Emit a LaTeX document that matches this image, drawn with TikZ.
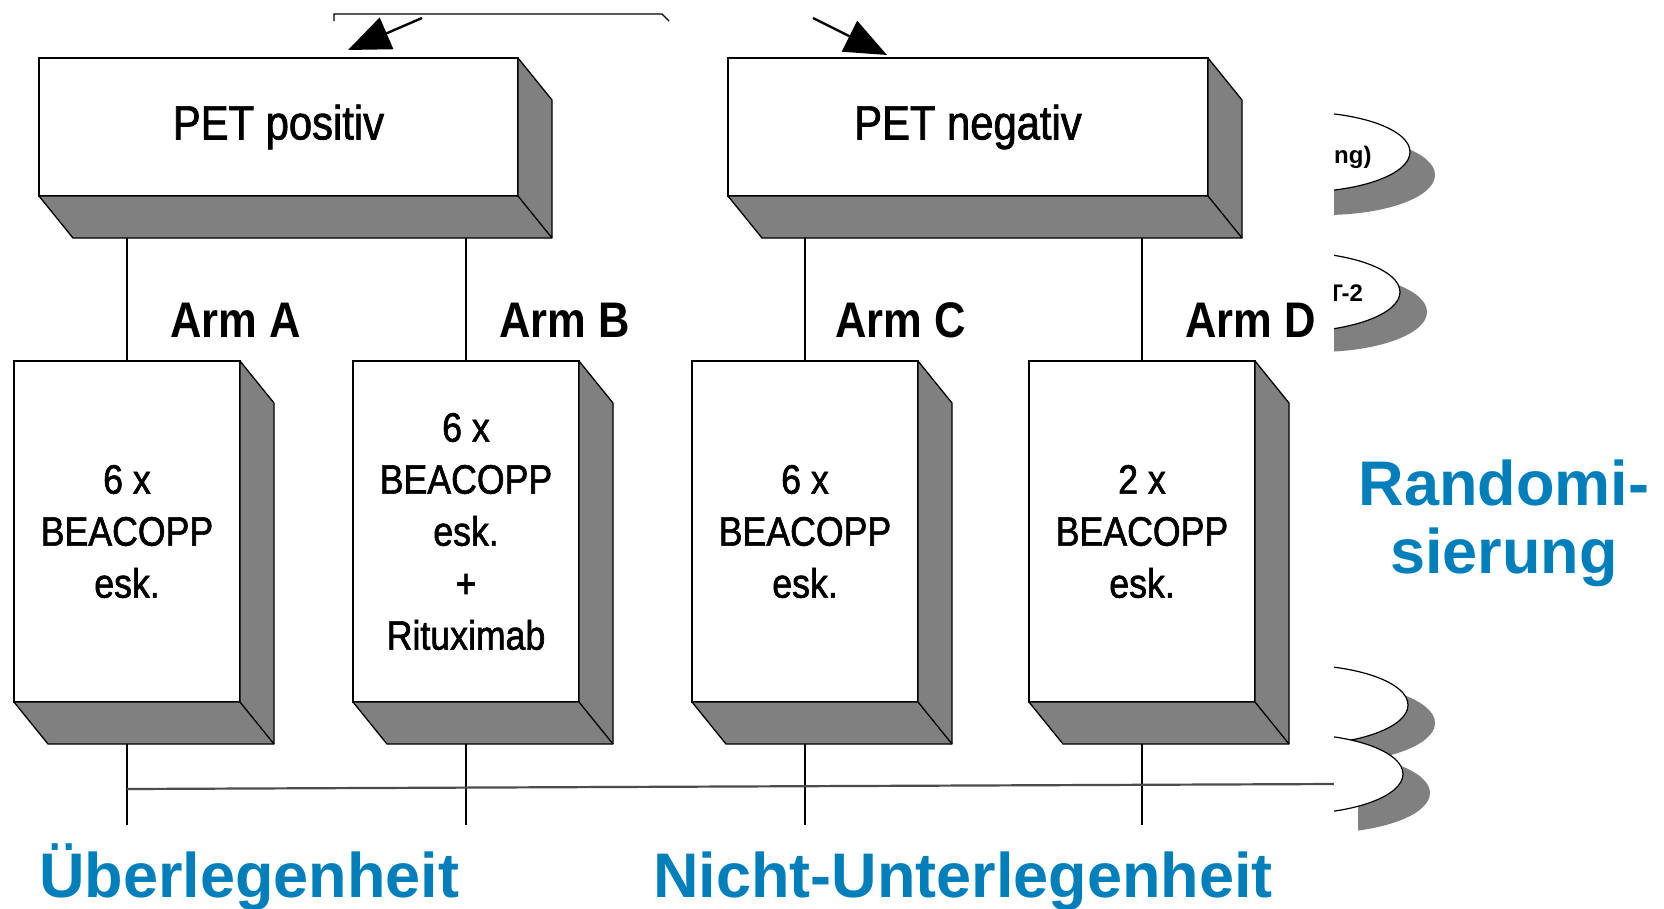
\documentclass[tikz,border=0pt]{standalone}
\usepackage{fontspec}
\setmainfont{Liberation Sans}
\newfontfamily\condR[FakeStretch=0.87,FakeBold=1.5]{Liberation Sans}
\newfontfamily\condB[FakeStretch=0.87]{Liberation Sans}
\usetikzlibrary{arrows.meta,calc}
\definecolor{gshade}{RGB}{128,128,128}
\definecolor{gblue}{RGB}{0,127,186}
\tikzset{
  front/.style={draw=black, fill=white, line width=1.6pt, inner sep=0pt, outer sep=0pt},
  petbox/.style={front, minimum width=479pt, minimum height=138pt,
    font=\condR\fontsize{48}{52}\selectfont},
  armbox/.style={front, minimum width=226pt, minimum height=341pt, align=center,
    font=\condR\fontsize{41}{52}\selectfont},
  armlabel/.style={anchor=base west, inner sep=0pt, font=\condB\bfseries\fontsize{50}{56}\selectfont},
  bigblue/.style={inner sep=0pt, anchor=base, text=gblue, font=\bfseries\fontsize{63}{68}\selectfont},
  side/.style={fill=gshade, draw=black, line width=1.3pt, line join=round},
  conn/.style={draw=black, line width=1.3pt},
  botline/.style={draw=black!70, line width=2.2pt},
  bigarrow/.style={draw=black, line width=2.4pt, -{Triangle[length=42pt,width=34pt]}},
  ovalfront/.style={fill=white, draw=black, line width=1.2pt},
  ovalshade/.style={fill=gshade},
  ovaltext/.style={inner sep=0pt, anchor=base west, font=\bfseries\fontsize{24}{26}\selectfont}
}
\newcommand\drawsides[1]{%
  \path[side] (#1.north east) -- ([shift={(34,42)}]#1.north east)
    -- ([shift={(34,42)}]#1.south east) -- ([shift={(34,42)}]#1.south west)
    -- (#1.south west) -- (#1.south east) -- cycle;
  \draw[side] (#1.south east) -- ([shift={(34,42)}]#1.south east);
}
\begin{document}
\begin{tikzpicture}[x=1pt,y=-1pt]
\useasboundingbox (0,0) rectangle (1664,908);
\fill[white] (0,0) rectangle (1664,908);

% top bracket and arrows
\coordinate (brL) at (334,21);
\coordinate (brLt) at (334,14);
\coordinate (brRt) at (662,14);
\coordinate (brR) at (669,21);
\draw[line width=1.3pt] (brL) -- (brLt) -- (brRt) -- (brR);
\coordinate (aLs) at (422,18);
\coordinate (aLt) at (348,50);
\coordinate (aRs) at (813,18);
\coordinate (aRt) at (887,55);
\draw[bigarrow] (aLs) -- (aLt);
\draw[bigarrow] (aRs) -- (aRt);

% PET boxes
\node[petbox] (pp) at (278.5,127) {PET positiv};
\drawsides{pp}
\node[petbox, minimum width=480pt] (pn) at (968,127) {PET negativ};
\drawsides{pn}

\coordinate (petbot) at (0,238);
\coordinate (armbot) at (0,744);
\coordinate (armend) at (0,825);

% arm boxes
\node[armbox] (aA) at (127,531.5) {6 x\\BEACOPP\\esk.};
\node[armbox] (aB) at (466,531.5) {6 x\\BEACOPP\\esk.\\+\\Rituximab};
\node[armbox] (aC) at (805,531.5) {6 x\\BEACOPP\\esk.};
\node[armbox] (aD) at (1142,531.5) {2 x\\BEACOPP\\esk.};
\drawsides{aA}
\drawsides{aB}
\drawsides{aC}
\drawsides{aD}

% connectors
\foreach \a in {aA,aB,aC,aD}{
  \draw[conn] (\a.north) -- (\a.north |- petbot);
  \draw[conn] (\a.south |- armbot) -- (\a.south |- armend);
}
\coordinate (hl) at (127,789);
\coordinate (hr) at (1334,784);
\draw[botline] (hl) -- (hr);

% arm labels
\node[armlabel] (lA) at (170,337) {Arm A};
\node[armlabel] (lB) at (499,337) {Arm B};
\node[armlabel] (lC) at (835,337) {Arm C};
\node[armlabel] (lD) at (1185,337) {Arm D};

% clipped ovals on the right
\begin{scope}
\clip (1334,0) rectangle (1664,908);
\fill[ovalshade] (1325,175) ellipse [x radius=110pt, y radius=40pt];
\path[ovalfront] (1300,152) ellipse [x radius=110pt, y radius=40pt];
\node[ovaltext] (o1) at (1334,163) {ng)};
\fill[ovalshade] (1317,312) ellipse [x radius=110pt, y radius=40pt];
\path[ovalfront] (1290,292) ellipse [x radius=110pt, y radius=40pt];
\node[ovaltext] (o2) at (1328,301) {T-2};
\fill[ovalshade] (1325,723) ellipse [x radius=110pt, y radius=40pt];
\path[ovalfront] (1298,705) ellipse [x radius=110pt, y radius=40pt];
\begin{scope}
\clip (1358,0) rectangle (1664,908);
\fill[ovalshade] (1320,793) ellipse [x radius=110pt, y radius=40pt];
\end{scope}
\path[ovalfront] (1293,774) ellipse [x radius=110pt, y radius=40pt];
\end{scope}

% blue texts
\node[bigblue] (r1) at (1504,505) {Randomi-};
\node[bigblue] (r2) at (1504,573) {sierung};
\node[bigblue, anchor=base west] (ue) at (39,897) {Überlegenheit};
\node[bigblue, anchor=base west] (nu) at (653,897) {Nicht-Unterlegenheit};
\end{tikzpicture}
\end{document}
